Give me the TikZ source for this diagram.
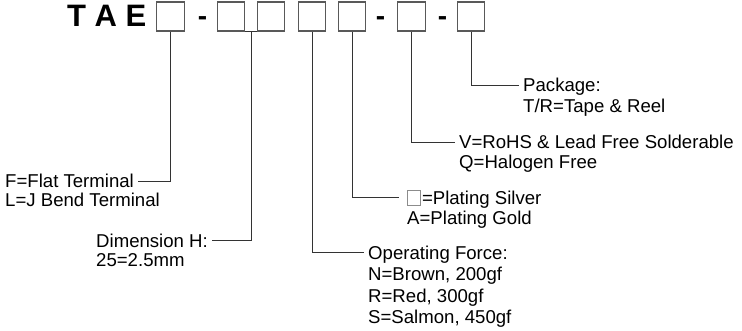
\documentclass[tikz,border=0pt]{standalone}
\usepackage{fontspec}
\setmainfont{Liberation Sans}
\usetikzlibrary{positioning}
\begin{document}
\begin{tikzpicture}[
    x=1pt, y=-1pt,
    slot/.style={draw=black!65, line width=1.1pt, minimum width=27.5pt, minimum height=29pt, inner sep=0pt},
    dotbox/.style={draw=black!45, line width=0.8pt, minimum width=13pt, minimum height=15pt, inner sep=0pt},
    lbl/.style={font=\fontsize{18.6}{20.5}\selectfont, inner xsep=4pt, inner ysep=0pt, text height=13.5pt, text depth=0pt},
    sub/.style={lbl, anchor=base west},
    title/.style={font=\fontsize{31}{31}\bfseries\selectfont, inner sep=0pt, anchor=base},
    lead/.style={draw=black!80, line width=0.9pt}
]
\useasboundingbox (0,0) rectangle (742,331);

% part number
\node[title, anchor=base west] (tae) at (67,27) {T A E};
\foreach \n/\x in {b1/170.5, b2/231, b3/271, b4/312, b5/352, b6/411.5, b7/471}
    \node[slot] (\n) at (\x,16.5) {};
\foreach \n/\x in {d1/202.5, d2/380.5, d3/442.5}
    \node[title, font=\fontsize{28}{28}\bfseries\selectfont] (\n) at (\x,25.5) {-};

% labels
\node[lbl, anchor=west] (pack) at (519,85) {Package:};
\node[sub] (tape) at ([yshift=-21pt]pack.base west) {T/R=Tape \& Reel};
\node[lbl, anchor=west] (rohs) at (455,142) {V=RoHS \& Lead Free Solderable};
\node[sub] (halogen) at ([yshift=-20pt]rohs.base west) {Q=Halogen Free};
\node[dotbox, anchor=west] (silver) at (407,197.5) {};
\node[lbl, anchor=west, inner xsep=1pt] (plating) at (silver.east) {=Plating Silver};
\node[sub] (gold) at (403,224.5) {A=Plating Gold};
\node[lbl, anchor=west] (flat) at (1,181) {F=Flat Terminal};
\node[sub] (jbend) at ([yshift=-19pt]flat.base west) {L=J Bend Terminal};
\node[lbl, anchor=west] (dim) at (92,240.5) {Dimension H:};
\node[sub] (dimval) at ([yshift=-19.5pt]dim.base west) {25=2.5mm};
\node[lbl, anchor=west] (force) at (364,252.5) {Operating Force:};
\foreach \t [count=\i] in {{N=Brown, 200gf}, {R=Red, 300gf}, {S=Salmon, 450gf}}
    \node[sub] (force\i) at ([yshift=-21.5*\i pt]force.base west) {\t};

% leads
\draw[lead] (b1.south) |- (flat.east);
\draw[lead] (b2.south east) -- coordinate (b23) (b3.south west);
\draw[lead] (b23) |- (dim.east);
\draw[lead] (b4.south) |- (force.west);
\draw[lead, shorten >=8pt] (b5.south) |- (silver.west);
\draw[lead] (b6.south) |- (rohs.west);
\draw[lead] (b7.south) |- (pack.west);
\end{tikzpicture}
\end{document}
